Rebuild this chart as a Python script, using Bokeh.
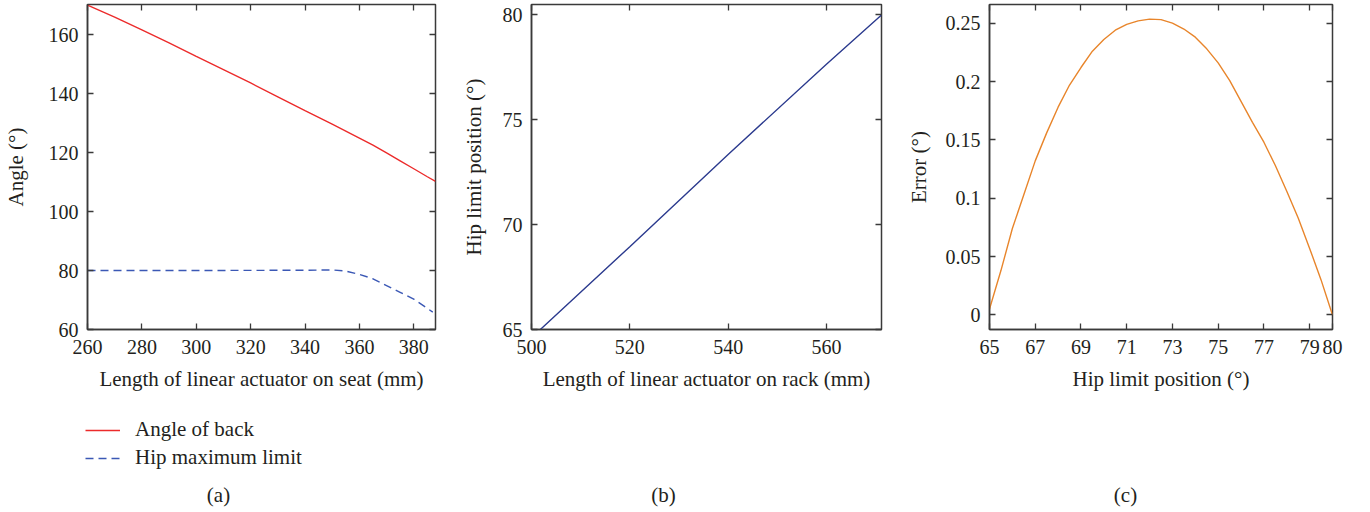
from bokeh.plotting import figure
from bokeh.layouts import row, column
from bokeh.models import Range1d, LinearAxis, FixedTicker, Label, Legend, LegendItem
from bokeh.embed import file_html
from bokeh.resources import INLINE

# ---------------- data ----------------
# (a) angle of back vs length of linear actuator on seat
seat_len = [260, 270, 280, 290, 300, 310, 320, 330, 340, 350, 355, 360, 365, 370, 375, 380, 385, 388]
back_angle = [170.0, 165.9, 161.6, 157.2, 152.6, 148.1, 143.6, 138.9, 134.2, 129.6, 127.3, 124.9,
              122.5, 119.9, 117.2, 114.5, 111.8, 110.2]
hip_len = [260, 300, 340, 345, 350, 355, 360, 365, 370, 375, 380, 387]
hip_max = [80.0, 80.0, 80.1, 80.15, 80.2, 79.8, 78.7, 77.2, 74.9, 72.6, 70.3, 65.9]

# (b) hip limit position vs length of linear actuator on rack
rack_len = [501.8, 520, 540, 560, 571.2]
hip_pos = [65.0, 68.95, 73.35, 77.65, 80.0]

# (c) error vs hip limit position
hip_limit = [65.0, 65.5, 66.0, 66.5, 67.0, 67.5, 68.0, 68.5, 69.0, 69.5, 70.0, 70.5,
             71.0, 71.5, 72.0, 72.5, 73.0, 73.5, 74.0, 74.5, 75.0, 75.5, 76.0, 76.5,
             77.0, 77.5, 78.0, 78.5, 79.0, 79.5, 80.0]
error = [0.005, 0.038, 0.074, 0.103, 0.132, 0.156, 0.178, 0.197, 0.212, 0.226, 0.236, 0.244,
         0.249, 0.252, 0.2535, 0.253, 0.250, 0.245, 0.238, 0.228, 0.216, 0.201, 0.183, 0.165,
         0.148, 0.128, 0.106, 0.083, 0.057, 0.030, 0.000]

a_xticks = [260, 280, 300, 320, 340, 360, 380]
a_yticks = [60, 80, 100, 120, 140, 160]
b_xticks = [500, 520, 540, 560]
b_yticks = [65, 70, 75, 80]
c_xticks = [65, 67, 69, 71, 73, 75, 77, 79, 80]
c_yticks = [0, 0.05, 0.1, 0.15, 0.2, 0.25]
c_ylabels = ["0", "0.05", "0.1", "0.15", "0.2", "0.25"]
legend_labels = ["Angle of back", "Hip maximum limit"]
panel_tags = ["(a)", "(b)", "(c)"]

FONT = "Liberation Serif"
TXT = "#231f20"
FRAME = "#3a3a3a"
RED = "#ec2b2b"
BLUE = "#3b58b5"
H = 400
BOTTOM = 71
TOP = 4


def make_fig(width, left, right, xr, yr, xticks, yticks, xlabel, ylabel, ylab_standoff):
    p = figure(width=width, height=H, x_range=Range1d(*xr), y_range=Range1d(*yr),
               output_backend="svg", toolbar_location=None,
               min_border_left=left, min_border_right=right,
               min_border_top=TOP, min_border_bottom=BOTTOM)
    p.xgrid.visible = False
    p.ygrid.visible = False
    p.outline_line_color = FRAME
    p.outline_line_width = 1.5
    p.background_fill_color = "white"
    p.border_fill_color = "white"
    p.xaxis.ticker = FixedTicker(ticks=xticks)
    p.yaxis.ticker = FixedTicker(ticks=yticks)
    p.xaxis.axis_label = xlabel
    p.yaxis.axis_label = ylabel
    for ax in (p.xaxis[0], p.yaxis[0]):
        ax.axis_line_color = FRAME
        ax.axis_line_width = 1.5
        ax.major_tick_in = 6
        ax.major_tick_out = 0
        ax.major_tick_line_color = FRAME
        ax.major_tick_line_width = 1.3
        ax.minor_tick_line_color = None
        ax.major_label_text_font = FONT
        ax.major_label_text_font_size = "20px"
        ax.major_label_text_color = TXT
        ax.axis_label_text_font = FONT
        ax.axis_label_text_font_size = "21px"
        ax.axis_label_text_font_style = "normal"
        ax.axis_label_text_color = TXT
    p.xaxis.major_label_standoff = 10
    p.xaxis.axis_label_standoff = 10
    p.yaxis.major_label_standoff = 9
    p.yaxis.axis_label_standoff = ylab_standoff
    # mirrored ticks on top and right
    for loc, tk in (("above", xticks), ("right", yticks)):
        ax = LinearAxis(ticker=FixedTicker(ticks=tk))
        ax.axis_line_color = None
        ax.major_tick_in = 6
        ax.major_tick_out = 0
        ax.major_tick_line_color = FRAME
        ax.major_tick_line_width = 1.3
        ax.minor_tick_line_color = None
        ax.major_label_text_font_size = "0px"
        ax.major_label_standoff = 0
        ax.major_label_text_alpha = 0
        p.add_layout(ax, loc)
    return p


# ---------------- panel (a) ----------------
pa = make_fig(458, 86, 23, (260, 388), (60, 170.2), a_xticks, a_yticks,
              "Length of linear actuator on seat (mm)", "Angle (°)", 18)
pa.line(seat_len, back_angle, line_color=RED, line_width=1.4)
pa.line(hip_len, hip_max, line_color=BLUE, line_width=1.4, line_dash="8 5")

# ---------------- panel (b) ----------------
pb = make_fig(445, 72, 22, (500, 571.2), (65, 80.5), b_xticks, b_yticks,
              "Length of linear actuator on rack (mm)", "Hip limit position (°)", 14)
pb.line(rack_len, hip_pos, line_color="#2b3a8e", line_width=1.4)

# ---------------- panel (c) ----------------
pc = make_fig(459, 85, 30, (65, 80), (-0.0125, 0.266), c_xticks, c_yticks,
              "Hip limit position (°)", "Error (°)", 12)
pc.yaxis[0].major_label_overrides = {t: s for t, s in zip(c_yticks, c_ylabels)}
pc.line(hip_limit, error, line_color="#e8852b", line_width=1.4)

# ---------------- legend + panel tags strip ----------------
SH = 110
strip = figure(width=1362, height=SH, x_range=Range1d(0, 1), y_range=Range1d(0, 1),
               output_backend="svg", toolbar_location=None,
               x_axis_type=None, y_axis_type=None,
               min_border_left=0, min_border_right=0, min_border_top=0, min_border_bottom=0)
strip.xgrid.visible = False
strip.ygrid.visible = False
strip.outline_line_color = None
# legend carriers: panel (a)'s series again (they fall outside this strip's ranges,
# so only their legend swatches show)
k1 = strip.line(seat_len, back_angle, line_color=RED, line_width=1.4)
k2 = strip.line(hip_len, hip_max, line_color=BLUE, line_width=1.4, line_dash="8 5")
lg = Legend(items=[LegendItem(label=legend_labels[0], renderers=[k1]),
                   LegendItem(label=legend_labels[1], renderers=[k2])],
            location=(85, 40), padding=0, margin=0, spacing=3,
            glyph_width=35, glyph_height=24, label_height=24, label_standoff=15,
            label_text_font=FONT, label_text_font_size="21px", label_text_color=TXT,
            border_line_color=None, background_fill_alpha=0)
strip.add_layout(lg, "center")
for tag, sx in zip(panel_tags, [218, 663, 1125]):
    strip.add_layout(Label(x=sx, y=16, x_units="screen", y_units="screen", text=tag,
                           text_font=FONT, text_font_size="21px", text_color=TXT,
                           text_align="center", text_baseline="middle"))

layout = column(row(pa, pb, pc), strip)
open("out.html", "w").write(file_html(layout, INLINE))
